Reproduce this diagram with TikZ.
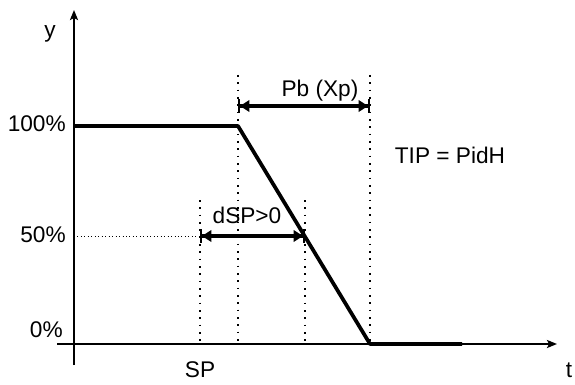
\documentclass[tikz,border=0pt]{standalone}
\usepackage{fontspec}
\setmainfont{Liberation Sans}
\usetikzlibrary{arrows.meta}

\begin{document}
\begin{tikzpicture}[x=0.75pt,y=-0.75pt,line join=round,
  axis/.style={line width=1.8pt,-{Stealth[length=7.5pt,width=6pt,inset=1.5pt]}},
  curve/.style={line width=2.8pt},
  guide/.style={line width=1.3pt,dash pattern=on 1.3pt off 4.2pt},
  fineguide/.style={line width=0.6pt,dash pattern=on 0.6pt off 2pt},
  dim/.style={line width=2.5pt,{Bar[width=10pt,line width=1.5pt]Triangle[length=7pt,width=8.5pt]}-{Triangle[length=7pt,width=8.5pt]Bar[width=10pt,line width=1.5pt]}},
  lbl/.style={inner sep=0pt,font=\fontsize{17}{20}\selectfont}]
\useasboundingbox (0,0) rectangle (575,385);
\coordinate (ybot) at (74,365);
\coordinate (ytop) at (74,10);
\coordinate (tleft) at (57,344);
\coordinate (tright) at (557,344);
\coordinate (A) at (74,126);
\coordinate (B) at (238,126);
\coordinate (C) at (370,344);
\coordinate (D) at (462,344);
\coordinate (Btop) at (238,75);
\coordinate (Bbot) at (238,344);
\coordinate (Ctop) at (370,75);
\coordinate (Pl) at (238,106);
\coordinate (Pr) at (370,106);
\coordinate (Stop) at (200,200);
\coordinate (Sbot) at (200,344);
\coordinate (Mtop) at (305,200);
\coordinate (Mbot) at (305,344);
\coordinate (Sl) at (200,236);
\coordinate (Sr) at (305,236);
\coordinate (half) at (74,236);
\draw[guide] (Btop) -- (Bbot);
\draw[guide] (Ctop) -- (C);
\draw[guide] (Stop) -- (Sbot);
\draw[guide] (Mtop) -- (Mbot);
\draw[fineguide] (half) -- (Sl);
\draw[axis] (ybot) -- (ytop);
\draw[axis] (tleft) -- (tright);
\draw[curve] (A) -- (B) -- (C) -- (D);
\draw[dim] (Pl) -- (Pr);
\draw[dim] (Sl) -- (Sr);
\node[lbl,anchor=base] (ylbl) at (50,38) {y};
\node[lbl,anchor=base] (tlbl) at (569,377) {t};
\node[lbl,anchor=base east] (p100) at (66,132) {100\%};
\node[lbl,anchor=base east] (p50) at (66,242) {50\%};
\node[lbl,anchor=base east] (p0) at (63,337) {0\%};
\node[lbl,anchor=base] (sp) at (200,377) {SP};
\node[lbl,anchor=base] (pb) at (320,97) {Pb (Xp)};
\node[lbl,anchor=base] (dsp) at (247,223) {dSP>0};
\node[lbl,anchor=base] (tip) at (450,163) {TIP = PidH};
\end{tikzpicture}
\end{document}
